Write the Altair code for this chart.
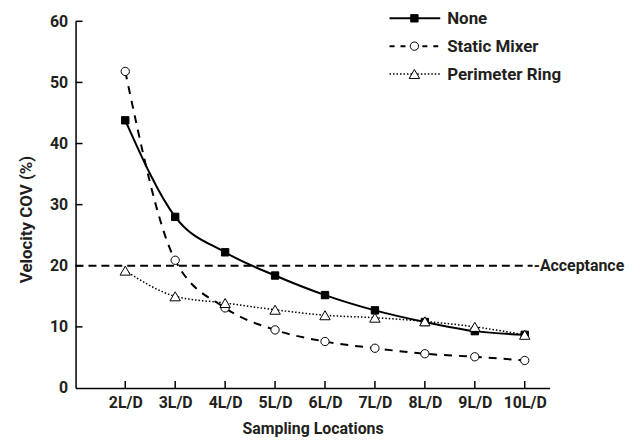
import altair as alt
import pandas as pd

# ---- data ----
locations = ["2L/D", "3L/D", "4L/D", "5L/D", "6L/D", "7L/D", "8L/D", "9L/D", "10L/D"]
none_cov = [43.8, 28.0, 22.2, 18.4, 15.2, 12.7, 10.8, 9.3, 8.7]
static_cov = [51.8, 20.9, 13.1, 9.5, 7.6, 6.5, 5.6, 5.1, 4.5]
ring_cov = [19.2, 15.0, 13.9, 12.8, 11.9, 11.5, 10.9, 10.0, 8.7]
series_names = ["None", "Static Mixer", "Perimeter Ring"]
y_ticks = [0, 10, 20, 30, 40, 50, 60]
acceptance = [20]
acceptance_label = ["-Acceptance"]

W, H = 477, 369
FONT = "Roboto"
TXT = "#231f20"

df = pd.DataFrame({
    "loc": locations * 3,
    "cov": none_cov + static_cov + ring_cov,
    "series": [s for s in series_names for _ in locations],
})

xs = alt.Scale(type="point", domain=locations, padding=0.746, align=0.667)
ys = alt.Scale(domain=[0, 60], nice=False, zero=True)

xaxis = alt.Axis(title="Sampling Locations", labelFont=FONT, labelFontSize=16,
                 labelFontWeight="bold", labelColor=TXT, titleFont=FONT,
                 titleFontSize=16, titleFontWeight="bold", titleColor=TXT,
                 tickSize=0, ticks=False, labelPadding=7, titlePadding=10,
                 domainColor="black", domainWidth=1.5, grid=False, labelAngle=0)
yaxis = alt.Axis(title="Velocity COV (%)", values=y_ticks, labelFont=FONT,
                 labelFontSize=16, labelFontWeight="bold", labelColor=TXT,
                 titleFont=FONT, titleFontSize=17, titleFontWeight="bold",
                 titleColor=TXT, tickSize=0, ticks=False, labelPadding=8,
                 titlePadding=14, titleY=199, domainColor="black",
                 domainWidth=1.5, grid=False)

X = alt.X("loc:O", scale=xs, axis=xaxis, sort=locations)
Y = alt.Y("cov:Q", scale=ys, axis=yaxis)

styles = {
    "None": dict(dash=None, width=2, shape="square", fill="black", size=55),
    "Static Mixer": dict(dash=[8, 7], width=2, shape="circle", fill="white", size=70),
    "Perimeter Ring": dict(dash=[1.5, 2], width=1.5, shape="triangle-up", fill="white", size=110),
}
legend_dash = {"None": None, "Static Mixer": [5, 6], "Perimeter Ring": [1.5, 2]}

layers = []

# inward tick marks
ytick_df = pd.DataFrame({"cov": [v for v in y_ticks if v > 0]})
layers.append(alt.Chart(ytick_df).mark_rule(color="black", strokeWidth=1.5).encode(
    y=Y, x=alt.value(0), x2=alt.value(7)))
xtick_df = pd.DataFrame({"loc": locations})
layers.append(alt.Chart(xtick_df).mark_rule(color="black", strokeWidth=1.5).encode(
    x=X, y=alt.value(H), y2=alt.value(H - 7)))

# acceptance line and label
acc_df = pd.DataFrame({"cov": acceptance, "label": acceptance_label})
layers.append(alt.Chart(acc_df).mark_rule(color="black", strokeWidth=2, strokeDash=[8, 5]).encode(
    y=Y, x=alt.value(0), x2=alt.value(460)))
layers.append(alt.Chart(acc_df).mark_text(align="left", baseline="middle", font=FONT,
                                          fontSize=16, fontWeight="bold", color=TXT).encode(
    y=Y, x=alt.value(461), text="label:N"))

# series
for s in series_names:
    st = styles[s]
    base = alt.Chart(df).transform_filter(alt.datum.series == s)
    lkw = dict(color="black", strokeWidth=st["width"], interpolate="monotone")
    if st["dash"]:
        lkw["strokeDash"] = st["dash"]
    layers.append(base.mark_line(**lkw).encode(x=X, y=Y))
    layers.append(base.mark_point(shape=st["shape"], filled=True, fill=st["fill"],
                                  stroke="black", strokeWidth=1, size=st["size"],
                                  opacity=1).encode(x=X, y=Y))

# legend (top right)
for i, s in enumerate(series_names):
    st = styles[s]
    yv = -3 + 28 * i
    ldf = pd.DataFrame({"series": [s]})
    rkw = dict(color="black", strokeWidth=st["width"])
    if legend_dash[s]:
        rkw["strokeDash"] = legend_dash[s]
    layers.append(alt.Chart(ldf).mark_rule(**rkw).encode(
        x=alt.value(316), x2=alt.value(367), y=alt.value(yv)))
    layers.append(alt.Chart(ldf).mark_point(shape=st["shape"], filled=True, fill=st["fill"],
                                            stroke="black", strokeWidth=1, size=st["size"],
                                            opacity=1).encode(
        x=alt.value(341), y=alt.value(yv)))
    layers.append(alt.Chart(ldf).mark_text(align="left", baseline="middle", font=FONT,
                                           fontSize=17, fontWeight="bold", color=TXT).encode(
        x=alt.value(374), y=alt.value(yv + 1), text="series:N"))

chart = alt.layer(*layers).properties(
    width=W, height=H, autosize="none",
    padding={"left": 68, "top": 12, "right": 85, "bottom": 55},
    background="white",
).configure_view(stroke=None)

chart.save("out.html", embed_options={"renderer": "svg", "actions": False})
